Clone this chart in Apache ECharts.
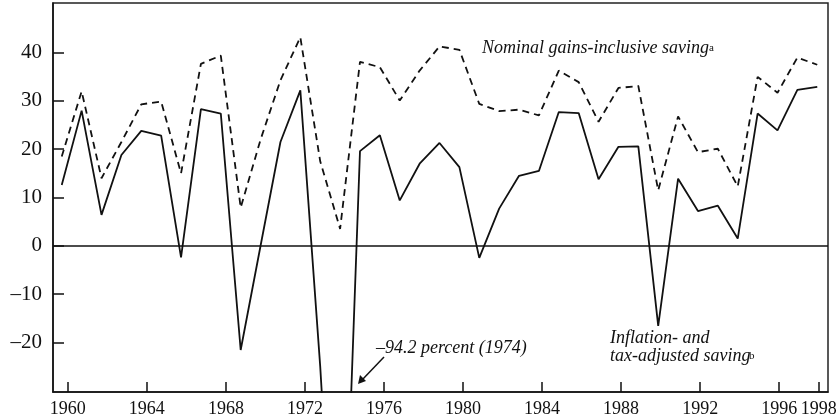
<!DOCTYPE html>
<html>
<head>
<meta charset="utf-8">
<script src="https://cdn.jsdelivr.net/npm/echarts@6/dist/echarts.min.js"></script>
<style>html,body{margin:0;padding:0;background:#fff}#c{width:840px;height:420px}</style>
</head>
<body>
<div id="c"></div>
<script>
const years = [1960,1961,1962,1963,1964,1965,1966,1967,1968,1969,1970,1971,1972,1973,1974,1975,1976,1977,1978,1979,1980,1981,1982,1983,1984,1985,1986,1987,1988,1989,1990,1991,1992,1993,1994,1995,1996,1997,1998];
const adjustedSaving = [12.6,28.0,6.4,18.8,23.8,22.8,-2.4,28.3,27.4,-21.6,0.0,21.5,32.2,-25.0,-94.2,19.6,22.9,9.4,17.0,21.3,16.3,-2.5,7.7,14.5,15.5,27.7,27.5,13.8,20.5,20.6,-16.6,13.9,7.2,8.3,1.5,27.4,23.9,32.3,32.9];
const nominalSaving = [18.5,32.0,14.0,21.5,29.3,29.9,15.0,37.7,39.4,7.9,22.0,34.3,43.2,17.5,3.5,38.1,37.0,30.1,36.3,41.3,40.6,29.4,27.9,28.2,27.0,36.3,33.9,25.7,32.7,33.1,11.5,26.8,19.4,20.1,12.3,35.0,31.7,39.0,37.5];
const xTickLabels = [1960,1964,1968,1972,1976,1980,1984,1988,1992,1996,1998];
const yTickLabels = [-20,-10,0,10,20,30,40];

const FONT = '"Liberation Serif", "DejaVu Serif", serif';
const INK = '#111';
const chart = echarts.init(document.getElementById('c'), null, {renderer:'canvas'});
const pairs = arr => years.map((y,i)=>[y, arr[i]]);

chart.setOption({
  animation: false,
  grid: {left:53, right:12, top:3, bottom:28, show:true, borderColor:'#222', borderWidth:1.5},
  xAxis: [{
    type:'value', min:1959.25, max:1998.47,
    axisLine:{show:true, onZero:false, lineStyle:{color:INK, width:1.5}},
    axisTick:{show:true, inside:true, length:10, customValues:xTickLabels, lineStyle:{color:INK, width:1.5}},
    axisLabel:{customValues:xTickLabels, formatter:v=>String(v), fontFamily:FONT, fontSize:18, color:INK, margin:8},
    splitLine:{show:false}
  },{
    type:'value', min:1959.56, max:1998.54, show:false,
    splitLine:{show:false}
  }],
  yAxis: {
    type:'value', min:-30.3, max:50.3,
    axisLine:{show:true, onZero:false, lineStyle:{color:INK, width:1.5}},
    axisTick:{show:true, inside:true, length:11, customValues:yTickLabels, lineStyle:{color:INK, width:1.5}},
    axisLabel:{customValues:yTickLabels, formatter:v=> v<0 ? '\u2013'+Math.abs(v) : String(v), fontFamily:FONT, fontSize:21, color:INK, margin:11},
    splitLine:{show:false}
  },
  series: [
    {
      type:'line', xAxisIndex:1, data:pairs(adjustedSaving), symbol:'none', clip:true,
      lineStyle:{color:INK, width:1.8, type:'solid'},
      markLine:{silent:true, symbol:['none','none'], label:{show:false},
        lineStyle:{color:INK, width:1.6, type:'solid'}, data:[{yAxis:0}]}
    },
    {
      type:'line', xAxisIndex:1, data:pairs(nominalSaving), symbol:'none', clip:true,
      lineStyle:{color:INK, width:1.8, type:[7,5]}
    }
  ],
  graphic: [
    {type:'text', left:482, top:39, style:{text:'Nominal gains-inclusive saving', font:'italic 18px '+FONT, fill:INK}},
    {type:'text', left:709, top:43, style:{text:'a', font:'11px '+FONT, fill:INK}},
    {type:'text', left:610, top:329, style:{text:'Inflation- and', font:'italic 18px '+FONT, fill:INK}},
    {type:'text', left:610, top:347, style:{text:'tax-adjusted saving', font:'italic 18px '+FONT, fill:INK}},
    {type:'text', left:749, top:351, style:{text:'b', font:'11px '+FONT, fill:INK}},
    {type:'text', left:376, top:339, style:{text:'\u201394.2 percent (1974)', font:'italic 18px '+FONT, fill:INK}},
    {type:'line', shape:{x1:384, y1:357, x2:362, y2:380}, style:{stroke:INK, lineWidth:1.5}},
    {type:'polygon', shape:{points:[[358,384],[360,375],[366,381]]}, style:{fill:INK}}
  ]
});
</script>
</body>
</html>
